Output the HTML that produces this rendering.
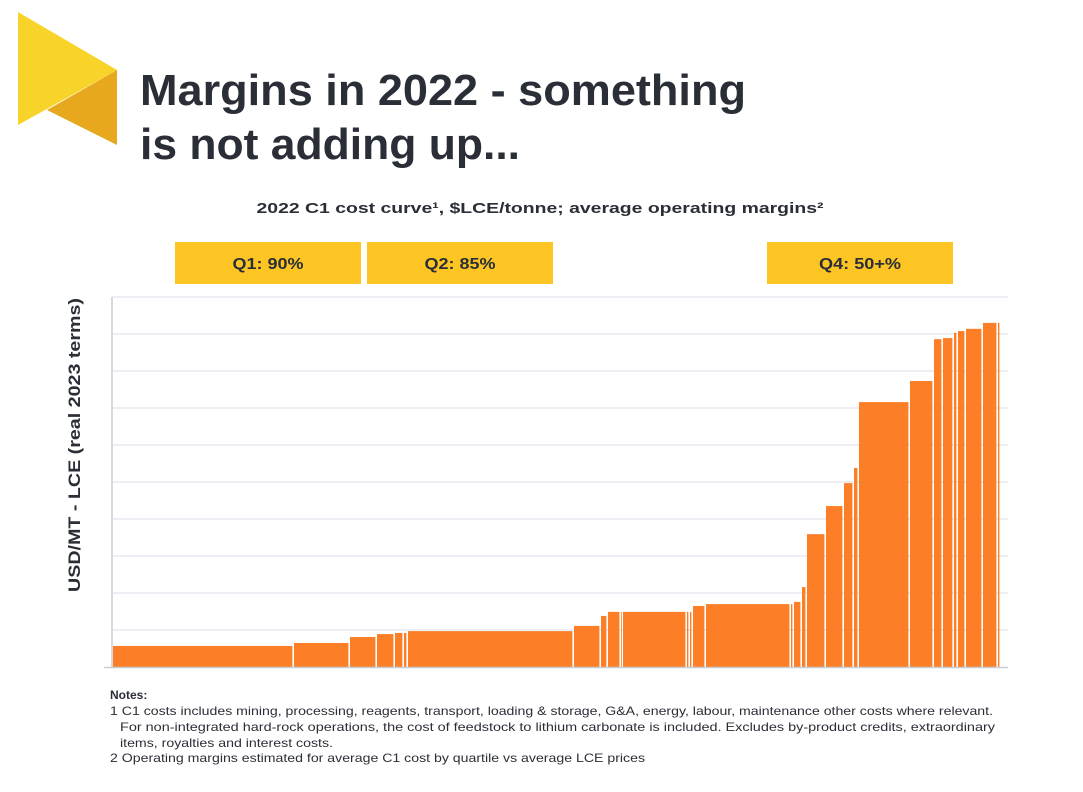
<!DOCTYPE html>
<html><head><meta charset="utf-8"><style>
body{margin:0;background:#fff;}
svg{display:block;font-family:"Liberation Sans",sans-serif;}
</style></head><body>
<svg id="chart" width="1083" height="792" viewBox="0 0 1083 792">
<polygon points="18,12 117,70 18,125" fill="#F8D42A"/>
<polygon points="47,110 117,70 117,145" fill="#E8A81E"/>
<text x="140" y="105" font-size="44" font-weight="bold" fill="#2a2e36" textLength="606" lengthAdjust="spacingAndGlyphs">Margins in 2022 - something</text>
<text x="140" y="159" font-size="44" font-weight="bold" fill="#2a2e36" textLength="380" lengthAdjust="spacingAndGlyphs">is not adding up...</text>
<text x="540" y="213" font-size="15" font-weight="bold" fill="#2a2e36" text-anchor="middle" textLength="567" lengthAdjust="spacingAndGlyphs">2022 C1 cost curve¹, $LCE/tonne; average operating margins²</text>
<g>
<rect x="175" y="242" width="186" height="42" fill="#FCC524"/>
<text x="268" y="269" font-size="16" font-weight="bold" fill="#2a2e36" text-anchor="middle" textLength="71" lengthAdjust="spacingAndGlyphs">Q1: 90%</text>
<rect x="367" y="242" width="186" height="42" fill="#FCC524"/>
<text x="460" y="269" font-size="16" font-weight="bold" fill="#2a2e36" text-anchor="middle" textLength="71" lengthAdjust="spacingAndGlyphs">Q2: 85%</text>
<rect x="767" y="242" width="186" height="42" fill="#FCC524"/>
<text x="860" y="269" font-size="16" font-weight="bold" fill="#2a2e36" text-anchor="middle" textLength="82" lengthAdjust="spacingAndGlyphs">Q4: 50+%</text>
</g>
<text transform="translate(80,445) rotate(-90)" font-size="17" font-weight="bold" fill="#2a2e36" text-anchor="middle" textLength="294" lengthAdjust="spacingAndGlyphs">USD/MT - LCE (real 2023 terms)</text>
<g id="grid"></g>
<g id="bars"></g>
<line x1="112" y1="297" x2="112" y2="667" stroke="#d5d9e0" stroke-width="2"/>
<line x1="104" y1="667.5" x2="1008" y2="667.5" stroke="#c8ccd2" stroke-width="1.5"/>
<g font-size="12" fill="#2a2e36">
<text x="110" y="699" font-weight="bold">Notes:</text>
<text x="110" y="715" textLength="883" lengthAdjust="spacingAndGlyphs">1  C1 costs includes mining, processing, reagents, transport, loading &amp; storage, G&amp;A, energy, labour, maintenance other costs where relevant.</text>
<text x="120" y="731" textLength="875" lengthAdjust="spacingAndGlyphs">For non-integrated hard-rock operations, the cost of feedstock to lithium carbonate is included. Excludes by-product credits, extraordinary</text>
<text x="120" y="747" font-size="12" textLength="213" lengthAdjust="spacingAndGlyphs">items, royalties and interest costs.</text>
<text x="110" y="762" textLength="535" lengthAdjust="spacingAndGlyphs">2  Operating margins estimated for average C1 cost by quartile vs average LCE prices</text>
</g>
</svg>
<script>
const capacities = [182,56,27,18,9,4,166,27,7,13,2,64,3,3,13,85,3,8,5,19,18,10,5,51,24,9,11,4,8,17,15,3];
const costs = [0.57,0.65,0.81,0.89,0.92,0.92,0.97,1.11,1.38,1.49,1.49,1.49,1.49,1.49,1.65,1.70,1.70,1.76,2.16,3.59,4.35,4.97,5.38,7.16,7.73,8.86,8.89,9.03,9.08,9.14,9.30,9.30];
const yTicks = [0,1,2,3,4,5,6,7,8,9,10];
const xMax = 896, yMax = 10;
const X0 = 112, X1 = 1008, Y0 = 667, Y1 = 297;
function xs(v){return X0 + v/xMax*(X1-X0);}
function ys(v){return Y0 - v/yMax*(Y0-Y1);}
const NS = "http://www.w3.org/2000/svg";
const grid = document.getElementById('grid');
yTicks.forEach(t=>{
  if(t===0) return;
  const l = document.createElementNS(NS,'line');
  l.setAttribute('x1', X0); l.setAttribute('x2', X1);
  l.setAttribute('y1', ys(t)); l.setAttribute('y2', ys(t));
  l.setAttribute('stroke', '#e6e9ef'); l.setAttribute('stroke-width', '1.5');
  
  
  grid.appendChild(l);
});
const bars = document.getElementById('bars');
let cum = 0;
capacities.forEach((c,i)=>{
  const x0 = xs(cum), x1 = xs(cum+c);
  cum += c;
  const r = document.createElementNS(NS,'rect');
  r.setAttribute('x', x0);
  r.setAttribute('width', Math.max(0.8, x1-x0-1.6));
  r.setAttribute('y', ys(costs[i]));
  r.setAttribute('height', Y0 - ys(costs[i]));
  r.setAttribute('fill', '#FC7F27');
  
  
  bars.appendChild(r);
});
</script>
</body></html>
